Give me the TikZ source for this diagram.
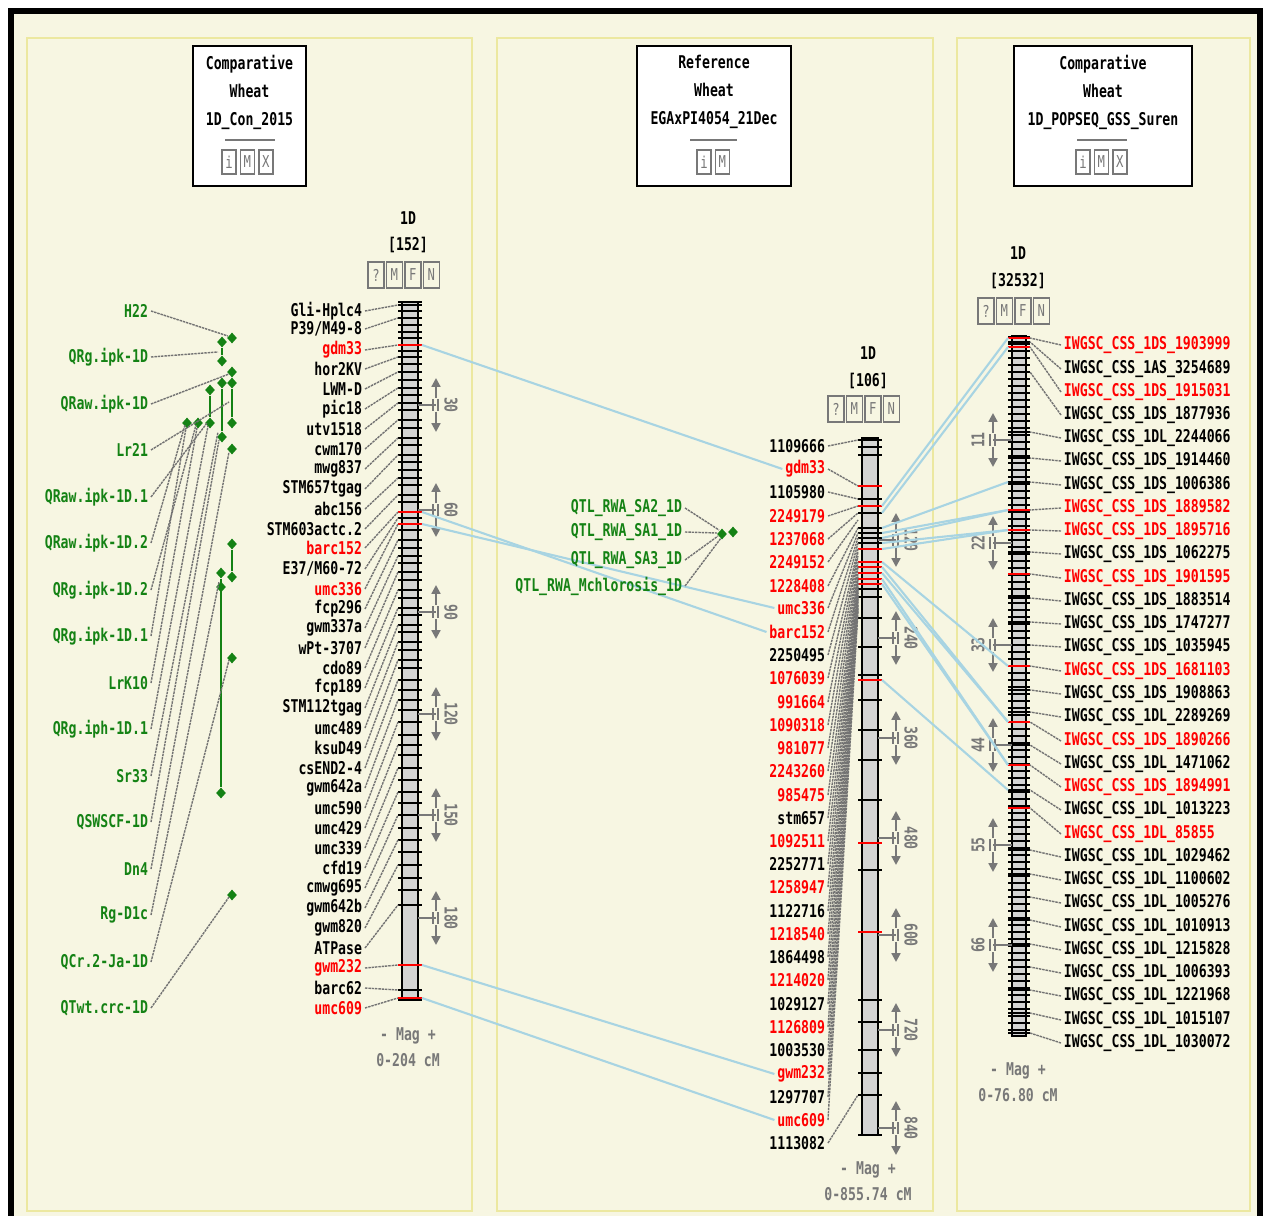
\documentclass[tikz,border=0pt]{standalone}
\usepackage{fontspec}
\newfontfamily\mapfont{DejaVu Sans Mono}[FakeStretch=0.75]
\usepackage{tikz}
\usetikzlibrary{
  shapes.geometric,
  arrows.meta,
  positioning
}
\definecolor{PanelCream}{RGB}{247, 246, 226}
\definecolor{PanelEdge}{RGB}{236, 232, 160}
\definecolor{LinkBlue}{RGB}{168, 212, 226}
\definecolor{QtlGreen}{RGB}{20, 130, 20}
\definecolor{ChromGray}{RGB}{212, 212, 212}
\definecolor{LinkGray}{RGB}{115, 115, 115}
\definecolor{BtnGray}{RGB}{120, 120, 120}
\tikzset{
    maplabel/.style={font=\mapfont\bfseries\fontsize{10}{12}\selectfont, inner sep=1.5pt},
    qtllabel/.style={maplabel, text=QtlGreen},
    graytext/.style={maplabel, text=BtnGray},
    hdrtext/.style={font=\mapfont\bfseries\fontsize{10}{15.9}\selectfont, align=center},
    hdrbox/.style={draw, fill=white, line width=1.2pt, inner sep=0pt},
    hdrrule/.style={draw=BtnGray, line width=1.2pt},
    btn/.style={draw=BtnGray, text=BtnGray, line width=0.8pt, inner sep=0pt,
        minimum width=0.28cm, minimum height=0.48cm, font=\mapfont\fontsize{9.3}{11}\selectfont},
    chrombtn/.style={btn, minimum width=0.32cm, minimum height=0.52cm},
    chrom/.style={draw, fill=ChromGray, line width=1pt},
    bandtick/.style={line width=1.2pt},
    linkgray/.style={draw=LinkGray, line width=0.8pt, dash pattern=on 1.4pt off 0.5pt},
    linkblue/.style={draw=LinkBlue, line width=1.2pt},
    qtlbar/.style={draw=QtlGreen, line width=1.2pt},
    qtldot/.style={diamond, fill=QtlGreen, inner sep=0pt, minimum width=0.2cm, minimum height=0.22cm},
    panel/.style={draw=PanelEdge, line width=1.2pt},
    scaleline/.style={draw=BtnGray, line width=0.8pt},
    scalearrow/.style={draw=BtnGray, line width=1.2pt, -{Triangle[width=5pt,length=5pt]}},
    scalenum/.style={maplabel, text=BtnGray, inner sep=0pt},
}
% scale marker: name, arrow x, centre y, text, rotation, chromosome edge x, number x
\newcommand{\scalemark}[7]{%
  \draw[scaleline] (#6,#3) -- (#2,#3);
  \draw[scalearrow] (#2,#3-7) -- (#2,#3-27);
  \draw[scalearrow] (#2,#3+7) -- (#2,#3+27);
  \draw[scaleline] (#2-3,#3-6) -- (#2-3,#3+6) (#2+2,#3-6) -- (#2+2,#3+6);
  \node[scalenum, rotate=#5] (#1) at (#7,#3) {#4};
}

\begin{document}
\begin{tikzpicture}[x=0.02cm, y=-0.02cm]
\useasboundingbox (0,0) rectangle (1268,1216);
% frame and panels
\fill[white] (0,0) rectangle (1268,1216);
\fill[PanelCream] (11,11) rectangle (1260,1216);
\draw[line width=3.4pt] (11,1216) -- (11,11) -- (1260,11) -- (1260,1216);
\draw[panel] (27,38) rectangle (472,1211);
\draw[panel] (497,38) rectangle (933,1211);
\draw[panel] (957,38) rectangle (1250,1211);

% header boxes
\node[hdrbox, minimum width=2.26cm, minimum height=2.8cm] (boxL) at (249.5,116) {};
\node[hdrtext] (hdrL) at (249.5,92) {Comparative\\Wheat\\1D\_Con\_2015};
\draw[hdrrule] (225,140) -- (275,140);
\node[btn] (bLi) at (229,162) {i};
\node[btn, right=0.06cm of bLi] (bLm) {M};
\node[btn, right=0.06cm of bLm] (bLx) {X};

\node[hdrbox, minimum width=3.08cm, minimum height=2.8cm] (boxM) at (714,116) {};
\node[hdrtext] (hdrM) at (714,92) {Reference\\Wheat\\EGAxPI4054\_21Dec};
\draw[hdrrule] (690,140) -- (737,140);
\node[btn] (bMi) at (704,162) {i};
\node[btn, right=0.06cm of bMi] (bMm) {M};

\node[hdrbox, minimum width=3.56cm, minimum height=2.8cm] (boxR) at (1103,116) {};
\node[hdrtext] (hdrR) at (1103,92) {Comparative\\Wheat\\1D\_POPSEQ\_GSS\_Suren};
\draw[hdrrule] (1077,140) -- (1127,140);
\node[btn] (bRi) at (1083,162) {i};
\node[btn, right=0.06cm of bRi] (bRm) {M};
\node[btn, right=0.06cm of bRm] (bRx) {X};

% left map 1D_Con_2015
\node[maplabel] (tL1) at (408,218) {1D};
\node[maplabel] (tL2) at (408,245) {[152]};
\node[chrombtn] (cbL1) at (376,275) {?};
\node[chrombtn, right=0.02cm of cbL1] (cbL2) {M};
\node[chrombtn, right=0.02cm of cbL2] (cbL3) {F};
\node[chrombtn, right=0.02cm of cbL3] (cbL4) {N};
\draw[chrom] (402,302) rectangle (418,1000);
\foreach \y in {302,311,325,332,338,351,364,380,395,410,428,445,462,470,485,502,530,548,
    563,580,598,615,632,650,668,690,710,735,755,780,803,828,852,878,890,1000}
  \draw[bandtick] (398,\y) -- (422,\y);
\foreach \lab/\ly/\ty/\col [count=\k] in {
    Gli-Hplc4/311/305/black, {P39/M49-8}/329/318/black, gdm33/350/345/red,
    hor2KV/369/357/black, LWM-D/389/372/black, pic18/409/388/black,
    utv1518/429/403/black, cwm170/449/420/black, mwg837/469/438/black,
    STM657tgag/489/455/black, abc156/509/478/black, STM603actc.2/529/495/black,
    barc152/548/512/red, {E37/M60-72}/569/518/black, umc336/589/524/red,
    fcp296/609/540/black, gwm337a/628/556/black, wPt-3707/648/572/black,
    cdo89/668/590/black, fcp189/688/608/black, STM112tgag/708/625/black,
    umc489/728/642/black, ksuD49/748/660/black, csEND2-4/768/680/black,
    gwm642a/788/700/black, umc590/808/722/black, umc429/828/745/black,
    umc339/848/768/black, cfd19/868/792/black, cmwg695/888/815/black,
    gwm642b/908/840/black, gwm820/928/865/black, ATPase/948/905/black,
    gwm232/968/965/red, barc62/988/990/black, umc609/1008/998/red}
{
  \node[maplabel, text=\col, anchor=east] (ll\k) at (365,\ly) {\lab};
  \coordinate (ltl\k) at (398,\ty);
  \coordinate (ltr\k) at (422,\ty);
  \draw[bandtick, draw=\col] (ltl\k) -- (ltr\k);
  \draw[linkgray] (ll\k.east) -- (ltl\k);
}
\scalemark{sL1}{436}{405}{30}{-90}{418}{451}
\scalemark{sL2}{436}{510}{60}{-90}{418}{451}
\scalemark{sL3}{436}{612}{90}{-90}{418}{451}
\scalemark{sL4}{436}{714}{120}{-90}{418}{451}
\scalemark{sL5}{436}{815}{150}{-90}{418}{451}
\scalemark{sL6}{436}{918}{180}{-90}{418}{451}
\node[graytext] (magL) at (408,1036) {- Mag +};
\node[graytext] (rngL) at (408,1060) {0-204 cM};

% left QTL features
\foreach \x/\y [count=\k] in {232/338, 222/342, 222/361, 232/372, 232/383, 232/423, 222/383,
    222/437, 210/390, 210/423, 187/423, 198/423, 232/449, 232/544, 232/577, 221/573,
    221/587, 221/793, 232/658, 232/895}
  \node[qtldot] (qd\k) at (\x,\y) {};
\draw[qtlbar] (qd2) -- (qd3);
\draw[qtlbar] (qd5) -- (qd6);
\draw[qtlbar] (qd7) -- (qd8);
\draw[qtlbar] (qd9) -- (qd10);
\draw[qtlbar] (qd14) -- (qd15);
\draw[qtlbar] (qd16) -- (qd18);
\foreach \lab/\ly/\tx/\ty [count=\k] in {
    H22/311/228/336, QRg.ipk-1D/357/218/352, QRaw.ipk-1D/404/229/374,
    Lr21/450/229/402, QRaw.ipk-1D.1/497/207/423, QRaw.ipk-1D.2/543/185/425,
    QRg.ipk-1D.2/590/196/425, QRg.ipk-1D.1/636/186/428, LrK10/683/197/428,
    QRg.iph-1D.1/729/208/426, Sr33/776/218/432, QSWSCF-1D/822/219/440,
    Dn4/869/229/452, Rg-D1c/915/219/582, QCr.2-Ja-1D/962/229/660,
    QTwt.crc-1D/1008/229/897}
{
  \node[qtllabel, anchor=east] (ql\k) at (151,\ly) {\lab};
  \coordinate (qt\k) at (\tx,\ty);
  \draw[linkgray] (ql\k.east) -- (qt\k);
}

% middle map EGAxPI4054_21Dec
\node[maplabel] (tM1) at (868,353) {1D};
\node[maplabel] (tM2) at (868,381) {[106]};
\node[chrombtn] (cbM1) at (836,409) {?};
\node[chrombtn, right=0.02cm of cbM1] (cbM2) {M};
\node[chrombtn, right=0.02cm of cbM2] (cbM3) {F};
\node[chrombtn, right=0.02cm of cbM3] (cbM4) {N};
\draw[chrom] (862,438) rectangle (878,1135);
\foreach \y in {440,447,455,499,513,528,533,538,543,589,597,618,647,675,700,730,760,
    800,870,1000,1022,1050,1073,1095,1135}
  \draw[bandtick] (858,\y) -- (882,\y);
\foreach \y in {486,506,549,562,567,573,579,584,843,932}
  \draw[bandtick, draw=red] (858,\y) -- (882,\y);
\coordinate (mx680) at (882,680);
\draw[bandtick, draw=red] (858,680) -- (mx680);
\foreach \lab/\ly/\ty/\col [count=\k] in {
    1109666/446/440/black, gdm33/469/486/red, 1105980/492/499/black,
    2249179/516/506/red, 1237068/539/513/red, 2249152/562/520/red,
    1228408/586/528/red, umc336/608/533/red, barc152/632/538/red,
    2250495/655/543/black, 1076039/678/549/red, 991664/702/552/red,
    1090318/725/556/red, 981077/748/562/red, 2243260/771/567/red,
    985475/795/573/red, stm657/818/576/black, 1092511/841/579/red,
    2252771/864/582/black, 1258947/887/584/red, 1122716/911/587/black,
    1218540/934/589/red, 1864498/957/591/black, 1214020/980/593/red,
    1029127/1004/595/black, 1126809/1027/597/red, 1003530/1050/600/black,
    gwm232/1074/604/red, 1297707/1097/607/black, umc609/1120/610/red,
    1113082/1143/1095/black}
{
  \node[maplabel, text=\col, anchor=east] (ml\k) at (828,\ly) {\lab};
  \coordinate (mtl\k) at (858,\ty);
  \coordinate (mtr\k) at (882,\ty);
  \draw[linkgray] (ml\k.east) -- (mtl\k);
}
\scalemark{sM1}{896}{540}{120}{-90}{878}{911}
\scalemark{sM2}{896}{638}{240}{-90}{878}{911}
\scalemark{sM3}{896}{738}{360}{-90}{878}{911}
\scalemark{sM4}{896}{838}{480}{-90}{878}{911}
\scalemark{sM5}{896}{935}{600}{-90}{878}{911}
\scalemark{sM6}{896}{1030}{720}{-90}{878}{911}
\scalemark{sM7}{896}{1128}{840}{-90}{878}{911}
\node[graytext] (magM) at (868,1170) {- Mag +};
\node[graytext] (rngM) at (868,1194) {0-855.74 cM};

% right map 1D_POPSEQ_GSS_Suren
\node[maplabel] (tR1) at (1018,253) {1D};
\node[maplabel] (tR2) at (1018,281) {[32532]};
\node[chrombtn] (cbR1) at (986,311) {?};
\node[chrombtn, right=0.02cm of cbR1] (cbR2) {M};
\node[chrombtn, right=0.02cm of cbR2] (cbR3) {F};
\node[chrombtn, right=0.02cm of cbR3] (cbR4) {N};
\draw[chrom] (1012,336) rectangle (1026,1036);
\foreach \y in {337,344,...,1033}
  \draw[bandtick] (1008,\y) -- (1030,\y);
\foreach \armname/\idnum/\ly/\ty/\col [count=\k] in {
    1DS/1903999/345/338/red, 1AS/3254689/369/342/black, 1DS/1915031/392/347/red,
    1DS/1877936/415/372/black, 1DL/2244066/438/432/black, 1DS/1914460/461/458/black,
    1DS/1006386/485/482/black, 1DS/1889582/508/510/red, 1DS/1895716/531/530/red,
    1DS/1062275/554/552/black, 1DS/1901595/578/574/red, 1DS/1883514/601/598/black,
    1DS/1747277/624/622/black, 1DS/1035945/647/645/black, 1DS/1681103/671/666/red,
    1DS/1908863/694/690/black, 1DL/2289269/717/712/black, 1DS/1890266/741/722/red,
    1DL/1471062/764/745/black, 1DS/1894991/787/765/red, 1DL/1013223/810/790/black,
    1DL/85855/834/808/red, 1DL/1029462/857/850/black, 1DL/1100602/880/874/black,
    1DL/1005276/903/897/black, 1DL/1010913/927/920/black, 1DL/1215828/950/944/black,
    1DL/1006393/973/967/black, 1DL/1221968/996/990/black, 1DL/1015107/1020/1013/black,
    1DL/1030072/1043/1033/black}
{
  \node[maplabel, text=\col, anchor=west] (rl\k) at (1061,\ly) {IWGSC\_CSS\_\armname\_\idnum};
  \coordinate (rtl\k) at (1008,\ty);
  \coordinate (rtr\k) at (1030,\ty);
  \draw[bandtick, draw=\col] (rtl\k) -- (rtr\k);
  \draw[linkgray] (rl\k.west) -- (rtr\k);
}
\scalemark{sR1}{993}{440}{11}{90}{1012}{978}
\scalemark{sR2}{993}{543}{22}{90}{1012}{978}
\scalemark{sR3}{993}{645}{33}{90}{1012}{978}
\scalemark{sR4}{993}{745}{44}{90}{1012}{978}
\scalemark{sR5}{993}{845}{55}{90}{1012}{978}
\scalemark{sR6}{993}{945}{66}{90}{1012}{978}
\node[graytext] (magR) at (1018,1071) {- Mag +};
\node[graytext] (rngR) at (1018,1095) {0-76.80 cM};

% correspondences
\draw[linkblue] (ltr3) -- (ml2.west);
\draw[linkblue] (ltr13) -- (ml9.west);
\draw[linkblue] (ltr15) -- (ml8.west);
\draw[linkblue] (ltr34) -- (ml28.west);
\draw[linkblue] (ltr36) -- (ml30.west);
\foreach \m/\r in {4/1, 5/3, 7/7, 8/8, 9/8, 10/9, 11/9, 14/15, 15/18, 16/18, 18/20, 20/20}
  \draw[linkblue] (mtr\m) -- (rtl\r);
\draw[linkblue] (mx680) -- (rtl21);

% middle QTL features
\node[qtldot] (qm1) at (722,534) {};
\node[qtldot] (qm2) at (733,532) {};
\foreach \lab/\ly/\tx/\ty [count=\k] in {
    QTL\_RWA\_SA2\_1D/508/719/530, QTL\_RWA\_SA1\_1D/532/717/533,
    QTL\_RWA\_SA3\_1D/560/718/536, QTL\_RWA\_Mchlorosis\_1D/586/721/538}
{
  \node[qtllabel, anchor=east] (qml\k) at (685,\ly) {\lab};
  \coordinate (qmt\k) at (\tx,\ty);
  \draw[linkgray] (qml\k.east) -- (qmt\k);
}
\end{tikzpicture}
\end{document}
